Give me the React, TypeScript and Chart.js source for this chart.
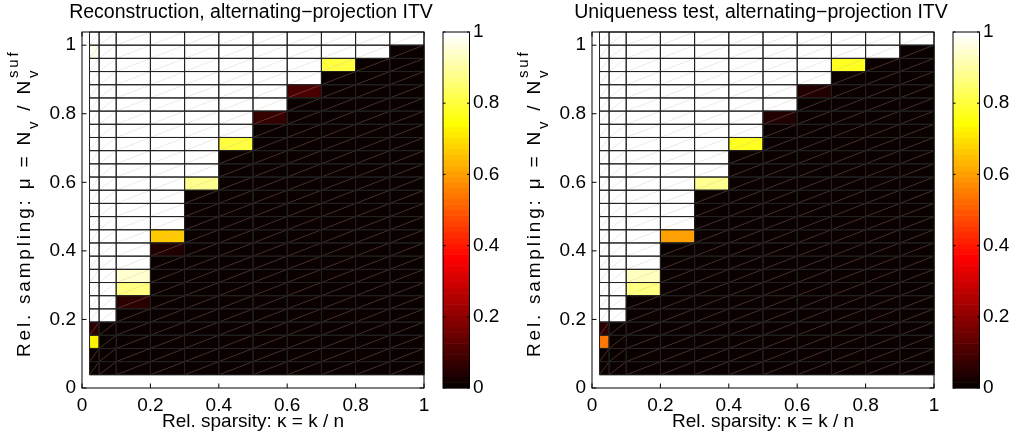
import React, { useEffect, useRef } from "react";
import { Chart, registerables } from "chart.js";

Chart.register(...registerables);

const FONT = "'Liberation Sans', Arial, Helvetica, sans-serif";
const FS = 19;
const TITLE_FS = 19.5;

// Column edges along the relative sparsity axis (kappa = k / n)
const KAPPA_EDGES = [0.022, 0.05, 0.1, 0.2, 0.3, 0.4, 0.5, 0.6, 0.7, 0.8, 0.9, 1.0];
// Row edges along the relative sampling axis: mu = N_v / N_suf
const NSUF = 26;
const NV_EDGES = [1, 2, 3, 4, 5, 6, 7, 8, 9, 10, 11, 12, 13, 14, 15, 16, 17, 18, 19, 20, 21, 22, 23, 24, 25, 26, 27];

const X_TICKS = [0, 0.2, 0.4, 0.6, 0.8, 1];
const X_TICK_LABELS = ["0", "0.2", "0.4", "0.6", "0.8", "1"];
const Y_TICKS = [0, 0.2, 0.4, 0.6, 0.8, 1];
const Y_TICK_LABELS = ["0", "0.2", "0.4", "0.6", "0.8", "1"];
const CB_TICKS = [0, 0.2, 0.4, 0.6, 0.8, 1];
const CB_TICK_LABELS = ["0", "0.2", "0.4", "0.6", "0.8", "1"];

const TITLES = [
  "Reconstruction, alternating\u2212projection ITV",
  "Uniqueness test, alternating\u2212projection ITV",
];
const X_LABEL = "Rel. sparsity: \u03ba = k / n";

// Success fraction, rows from top (N_v = 26) to bottom (N_v = 1), columns = kappa cells
const RECON_ROWS = [
  [1, 1, 1, 1, 1, 1, 1, 1, 1, 1, 1],
  [0.98, 1, 1, 1, 1, 1, 1, 1, 1, 1, 0],
  [1, 1, 1, 1, 1, 1, 1, 1, 0.81, 0, 0],
  [1, 1, 1, 1, 1, 1, 1, 1, 0, 0, 0],
  [1, 1, 1, 1, 1, 1, 1, 0.1, 0, 0, 0],
  [1, 1, 1, 1, 1, 1, 1, 0, 0, 0, 0],
  [1, 1, 1, 1, 1, 1, 0.07, 0, 0, 0, 0],
  [1, 1, 1, 1, 1, 1, 0, 0, 0, 0, 0],
  [1, 1, 1, 1, 1, 0.81, 0, 0, 0, 0, 0],
  [1, 1, 1, 1, 1, 0, 0, 0, 0, 0, 0],
  [1, 1, 1, 1, 1, 0, 0, 0, 0, 0, 0],
  [1, 1, 1, 1, 0.88, 0, 0, 0, 0, 0, 0],
  [1, 1, 1, 1, 0, 0, 0, 0, 0, 0, 0],
  [1, 1, 1, 1, 0, 0, 0, 0, 0, 0, 0],
  [1, 1, 1, 1, 0, 0, 0, 0, 0, 0, 0],
  [1, 1, 1, 0.66, 0, 0, 0, 0, 0, 0, 0],
  [1, 1, 1, 0.04, 0, 0, 0, 0, 0, 0, 0],
  [1, 1, 1, 0, 0, 0, 0, 0, 0, 0, 0],
  [1, 1, 0.94, 0, 0, 0, 0, 0, 0, 0, 0],
  [1, 1, 0.86, 0, 0, 0, 0, 0, 0, 0, 0],
  [1, 1, 0.05, 0, 0, 0, 0, 0, 0, 0, 0],
  [1, 1, 0, 0, 0, 0, 0, 0, 0, 0, 0],
  [0.06, 0, 0, 0, 0, 0, 0, 0, 0, 0, 0],
  [0.72, 0, 0, 0, 0, 0, 0, 0, 0, 0, 0],
  [0, 0, 0, 0, 0, 0, 0, 0, 0, 0, 0],
  [0, 0, 0, 0, 0, 0, 0, 0, 0, 0, 0],
];

const UNIQ_ROWS = [
  [1, 1, 1, 1, 1, 1, 1, 1, 1, 1, 1],
  [1, 1, 1, 1, 1, 1, 1, 1, 1, 1, 0],
  [1, 1, 1, 1, 1, 1, 1, 1, 0.78, 0, 0],
  [1, 1, 1, 1, 1, 1, 1, 1, 0, 0, 0],
  [1, 1, 1, 1, 1, 1, 1, 0.035, 0, 0, 0],
  [1, 1, 1, 1, 1, 1, 1, 0, 0, 0, 0],
  [1, 1, 1, 1, 1, 1, 0.035, 0, 0, 0, 0],
  [1, 1, 1, 1, 1, 1, 0, 0, 0, 0, 0],
  [1, 1, 1, 1, 1, 0.77, 0, 0, 0, 0, 0],
  [1, 1, 1, 1, 1, 0, 0, 0, 0, 0, 0],
  [1, 1, 1, 1, 1, 0, 0, 0, 0, 0, 0],
  [1, 1, 1, 1, 0.89, 0, 0, 0, 0, 0, 0],
  [1, 1, 1, 1, 0, 0, 0, 0, 0, 0, 0],
  [1, 1, 1, 1, 0, 0, 0, 0, 0, 0, 0],
  [1, 1, 1, 1, 0, 0, 0, 0, 0, 0, 0],
  [1, 1, 1, 0.6, 0, 0, 0, 0, 0, 0, 0],
  [1, 1, 1, 0, 0, 0, 0, 0, 0, 0, 0],
  [1, 1, 1, 0, 0, 0, 0, 0, 0, 0, 0],
  [1, 0.985, 0.93, 0, 0, 0, 0, 0, 0, 0, 0],
  [1, 1, 0.86, 0, 0, 0, 0, 0, 0, 0, 0],
  [1, 0.985, 0, 0, 0, 0, 0, 0, 0, 0, 0],
  [1, 1, 0, 0, 0, 0, 0, 0, 0, 0, 0],
  [0.06, 0, 0, 0, 0, 0, 0, 0, 0, 0, 0],
  [0.54, 0, 0, 0, 0, 0, 0, 0, 0, 0, 0],
  [0, 0, 0, 0, 0, 0, 0, 0, 0, 0, 0],
  [0, 0, 0, 0, 0, 0, 0, 0, 0, 0, 0],
];

// MATLAB "hot" colormap with 64 entries
const CMAP_SIZE = 64;
function hotColor(i: number): string {
  const n = Math.floor((3 / 8) * CMAP_SIZE);
  const r = i < n ? (i + 1) / n : 1;
  const g = i < n ? 0 : i < 2 * n ? (i + 1 - n) / n : 1;
  const b = i < 2 * n ? 0 : (i + 1 - 2 * n) / (CMAP_SIZE - 2 * n);
  return `rgb(${Math.round(r * 255)},${Math.round(g * 255)},${Math.round(b * 255)})`;
}
function valueColor(v: number): string {
  const i = Math.min(CMAP_SIZE - 1, Math.max(0, Math.floor(v * CMAP_SIZE)));
  return hotColor(i);
}

const TICK_LEN = 4.5;

const heatmapPlugin = {
  id: "heatmap",
  beforeDatasetsDraw(chart: any, _args: any, opts: any) {
    const { ctx, chartArea, scales } = chart;
    const x = scales.x;
    const y = scales.y;
    const rows: number[][] = opts.rows;
    const nRows = rows.length;
    ctx.save();
    // inside tick marks (drawn first, cells may cover them)
    ctx.strokeStyle = "#000";
    ctx.lineWidth = 1;
    ctx.beginPath();
    X_TICKS.forEach((v) => {
      const px = x.getPixelForValue(v);
      ctx.moveTo(px, chartArea.bottom);
      ctx.lineTo(px, chartArea.bottom - TICK_LEN);
      ctx.moveTo(px, chartArea.top);
      ctx.lineTo(px, chartArea.top + TICK_LEN);
    });
    Y_TICKS.forEach((v) => {
      const py = y.getPixelForValue(v);
      ctx.moveTo(chartArea.left, py);
      ctx.lineTo(chartArea.left + TICK_LEN, py);
      ctx.moveTo(chartArea.right, py);
      ctx.lineTo(chartArea.right - TICK_LEN, py);
    });
    ctx.stroke();

    // cells
    const cells: any[] = [];
    rows.forEach((row, k) => {
      const yb = y.getPixelForValue(NV_EDGES[nRows - 1 - k] / NSUF);
      const yt = y.getPixelForValue(NV_EDGES[nRows - k] / NSUF);
      row.forEach((v, c) => {
        const x0 = x.getPixelForValue(KAPPA_EDGES[c]);
        const x1 = x.getPixelForValue(KAPPA_EDGES[c + 1]);
        cells.push({ x0, x1, yb, yt, v });
      });
    });
    cells.forEach((cl) => {
      ctx.fillStyle = valueColor(cl.v);
      ctx.fillRect(cl.x0 - 0.25, cl.yt - 0.25, cl.x1 - cl.x0 + 0.5, cl.yb - cl.yt + 0.5);
    });
    // faint triangle seams of the rendered surface
    ctx.strokeStyle = "rgba(205,175,155,0.4)";
    ctx.lineWidth = 0.7;
    ctx.beginPath();
    cells.forEach((cl) => {
      ctx.moveTo(cl.x0, cl.yb);
      ctx.lineTo(cl.x1, cl.yt);
    });
    ctx.stroke();
    // cell edges
    ctx.strokeStyle = "#222";
    ctx.lineWidth = 1;
    ctx.beginPath();
    cells.forEach((cl) => {
      ctx.rect(cl.x0, cl.yt, cl.x1 - cl.x0, cl.yb - cl.yt);
    });
    ctx.stroke();
    // axes box
    ctx.strokeStyle = "#000";
    ctx.lineWidth = 1;
    ctx.strokeRect(chartArea.left, chartArea.top, chartArea.right - chartArea.left, chartArea.bottom - chartArea.top);
    ctx.restore();
  },
  afterDraw(chart: any, _args: any, opts: any) {
    const { ctx, chartArea } = chart;
    const cx = (chartArea.left + chartArea.right) / 2;
    ctx.save();
    ctx.fillStyle = "#000";
    ctx.textBaseline = "alphabetic";
    ctx.textAlign = "center";
    ctx.font = `${TITLE_FS}px ${FONT}`;
    ctx.fillText(opts.title, cx - 2, 18);
    ctx.font = `${FS}px ${FONT}`;
    ctx.fillText(X_LABEL, cx, 427);

    // y label (rotated; the rotated text is letter-spaced), with sub/superscripts
    const main = `${FS}px ${FONT}`;
    const small = `15px ${FONT}`;
    const SP = 2.8;
    ctx.translate(30, chartArea.bottom - 31);
    ctx.rotate(-Math.PI / 2);
    ctx.textAlign = "left";
    let pos = 0;
    const put = (t: string, font: string, dy: number, start: number) => {
      ctx.font = font;
      let p = start;
      for (const ch of Array.from(t)) {
        ctx.fillText(ch, p, dy);
        p += ctx.measureText(ch).width + SP;
      }
      return p;
    };
    pos = put("Rel. sampling: \u03bc = N", main, 0, pos);
    pos = put("v", small, 7.5, pos);
    pos = put(" / N", main, 0, pos);
    put("v", small, 7.5, pos);
    put("suf", small, -12.5, pos);
    ctx.restore();
  },
};

const colorbarPlugin = {
  id: "colorbar",
  beforeDatasetsDraw(chart: any) {
    const { ctx, chartArea, scales } = chart;
    const y = scales.y;
    ctx.save();
    for (let i = 0; i < CMAP_SIZE; i++) {
      const yb = y.getPixelForValue(i / CMAP_SIZE);
      const yt = y.getPixelForValue((i + 1) / CMAP_SIZE);
      ctx.fillStyle = hotColor(i);
      ctx.fillRect(chartArea.left, yt - 0.3, chartArea.right - chartArea.left, yb - yt + 0.6);
    }
    ctx.strokeStyle = "#000";
    ctx.lineWidth = 1;
    ctx.beginPath();
    CB_TICKS.forEach((v) => {
      const py = y.getPixelForValue(v);
      ctx.moveTo(chartArea.left, py);
      ctx.lineTo(chartArea.left + 2.5, py);
      ctx.moveTo(chartArea.right, py);
      ctx.lineTo(chartArea.right - 2.5, py);
    });
    ctx.stroke();
    ctx.strokeRect(chartArea.left, chartArea.top, chartArea.right - chartArea.left, chartArea.bottom - chartArea.top);
    ctx.restore();
  },
};

function heatmapConfig(rows: number[][], title: string): any {
  return {
    type: "scatter",
    data: { datasets: [{ data: [], pointRadius: 0 }] },
    plugins: [heatmapPlugin],
    options: {
      responsive: false,
      animation: false,
      events: [],
      layout: { padding: { top: 32, right: 16, left: 0, bottom: 0 } },
      plugins: {
        legend: { display: false },
        tooltip: { enabled: false },
        heatmap: { rows, title },
      },
      scales: {
        x: {
          type: "linear",
          min: 0,
          max: 1,
          afterBuildTicks: (s: any) => {
            s.ticks = X_TICKS.map((v) => ({ value: v }));
          },
          afterFit: (s: any) => {
            s.height = 50;
          },
          grid: { display: false, drawTicks: false },
          border: { display: false },
          ticks: {
            autoSkip: false,
            maxRotation: 0,
            padding: 6,
            color: "#000",
            font: { family: FONT, size: FS },
            callback: (_v: any, i: number) => X_TICK_LABELS[i],
          },
        },
        y: {
          type: "linear",
          min: 0,
          max: NV_EDGES[NV_EDGES.length - 1] / NSUF,
          afterBuildTicks: (s: any) => {
            s.ticks = Y_TICKS.map((v) => ({ value: v }));
          },
          afterFit: (s: any) => {
            s.width = 82;
          },
          grid: { display: false, drawTicks: false },
          border: { display: false },
          ticks: {
            autoSkip: false,
            padding: 6,
            color: "#000",
            font: { family: FONT, size: FS },
            callback: (_v: any, i: number) => Y_TICK_LABELS[i],
          },
        },
      },
    },
  };
}

function colorbarConfig(): any {
  return {
    type: "scatter",
    data: { datasets: [{ data: [], pointRadius: 0 }] },
    plugins: [colorbarPlugin],
    options: {
      responsive: false,
      animation: false,
      events: [],
      layout: { padding: { top: 32, right: 0, left: 13, bottom: 50 } },
      plugins: { legend: { display: false }, tooltip: { enabled: false } },
      scales: {
        x: { type: "linear", display: false, min: 0, max: 1 },
        y: {
          type: "linear",
          position: "right",
          min: 0,
          max: 1,
          afterBuildTicks: (s: any) => {
            s.ticks = CB_TICKS.map((v) => ({ value: v }));
          },
          afterFit: (s: any) => {
            s.width = 74 - 13 - 26.5;
          },
          grid: { display: false, drawTicks: false },
          border: { display: false },
          ticks: {
            autoSkip: false,
            padding: 3.5,
            color: "#000",
            font: { family: FONT, size: FS },
            callback: (_v: any, i: number) => CB_TICK_LABELS[i],
          },
        },
      },
    },
  };
}

function ChartBox(props: { left: number; width: number; make: () => any }) {
  const ref = useRef<HTMLCanvasElement | null>(null);
  useEffect(() => {
    const chart = new Chart(ref.current as HTMLCanvasElement, props.make());
    return () => chart.destroy();
  }, []);
  return (
    <div style={{ position: "absolute", left: props.left, top: 0, width: props.width, height: 438 }}>
      <canvas ref={ref} width={props.width} height={438} style={{ display: "block" }} />
    </div>
  );
}

export default function App() {
  return (
    <div
      style={{
        position: "absolute",
        left: 0,
        top: 0,
        width: 1014,
        height: 438,
        overflow: "hidden",
        background: "#fff",
      }}
    >
      <ChartBox left={0} width={440} make={() => heatmapConfig(RECON_ROWS, TITLES[0])} />
      <ChartBox left={430} width={74} make={() => colorbarConfig()} />
      <ChartBox left={510} width={440} make={() => heatmapConfig(UNIQ_ROWS, TITLES[1])} />
      <ChartBox left={940} width={74} make={() => colorbarConfig()} />
    </div>
  );
}
